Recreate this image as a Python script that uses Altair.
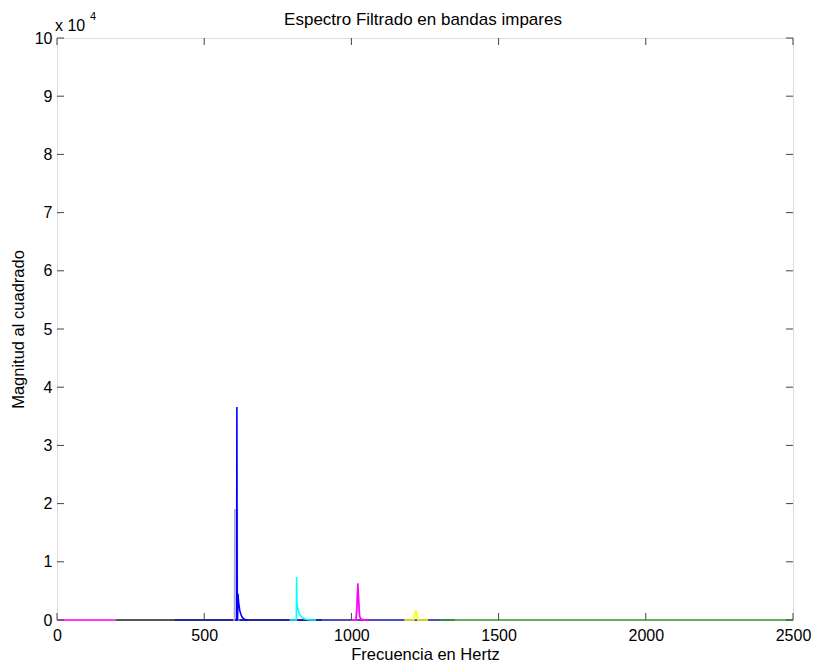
import altair as alt
import pandas as pd

# ---- data ----
# baseline segments (zero-level output of each band filter)
base_magenta_f = [0, 200]
base_magenta_m = [0, 0]
base_black_f = [200, 400, 640, 900]
base_black_m = [0, 0, 0, 0]
base_blue_f = [400, 600, 850, 1350]
base_blue_m = [0, 0, 0, 0]

# band peaks
lav_f = [598, 603, 604, 612, 613, 620]
lav_m = [0, 0, 18900, 18900, 0, 0]
blue_f = [606, 610, 611, 612, 613, 615, 616, 618, 621, 625, 630, 638, 650]
blue_m = [0, 0, 36600, 0, 0, 4500, 3600, 2600, 1600, 900, 400, 100, 0]
cyan_f = [790, 813, 814, 815, 817, 820, 824, 829, 836, 845, 860, 880]
cyan_m = [0, 0, 7400, 2800, 2200, 1600, 1000, 600, 300, 120, 0, 0]
pink_f = [1000, 1015, 1018, 1021, 1024, 1027, 1032, 1045]
pink_m = [0, 0, 2500, 5200, 4000, 900, 200, 0]
magenta_f = [1000, 1016, 1019, 1022, 1025, 1028, 1033, 1050, 1060]
magenta_m = [0, 0, 2000, 6300, 3000, 600, 100, 0, 0]
yellow_f = [1180, 1212, 1219, 1226, 1260]
yellow_m = [0, 0, 1700, 0, 0]
green_f = [1300, 2500]
green_m = [0, 0]

series = [
    ("magenta0", base_magenta_f, base_magenta_m, "#ff00ff"),
    ("black0", base_black_f, base_black_m, "#222222"),
    ("blue0", base_blue_f, base_blue_m, "#1a1aa0"),
    ("lavender", lav_f, lav_m, "#a8a8e8"),
    ("blue", blue_f, blue_m, "#0000ff"),
    ("cyan", cyan_f, cyan_m, "#00ffff"),
    ("pink", pink_f, pink_m, "#e89ae8"),
    ("magenta", magenta_f, magenta_m, "#ff00ff"),
    ("yellow", yellow_f, yellow_m, "#ffff00"),
    ("green", green_f, green_m, "#2f9a2f"),
]

rows = []
for k, (name, fs, ms, _) in enumerate(series):
    for i, (f, m) in enumerate(zip(fs, ms)):
        rows.append({"f": f, "m": m, "s": name, "o": k * 100 + i})
df = pd.DataFrame(rows)

x_ticks = [0, 500, 1000, 1500, 2000, 2500]
y_ticks = [0, 10000, 20000, 30000, 40000, 50000, 60000, 70000, 80000, 90000, 100000]

W, H = 736, 582
FONT = "Liberation Sans"
xs = alt.Scale(domain=[0, 2500], nice=False, zero=False)
ys = alt.Scale(domain=[0, 100000], nice=False)

x_axis = alt.Axis(
    values=x_ticks, title="Frecuencia en Hertz", ticks=False, domain=False,
    grid=False, labelPadding=7, labelFontSize=16, titleFontSize=16.5,
    labelFont=FONT, titleFont=FONT, labelColor="#000", titleColor="#000",
    titleFontWeight="normal", titlePadding=3, labelFlush=False, format="d")
y_axis = alt.Axis(
    values=y_ticks, title="Magnitud al cuadrado", ticks=False, domain=False,
    grid=False, labelPadding=5, labelFontSize=16, titleFontSize=16.5,
    labelFont=FONT, titleFont=FONT, labelColor="#000", titleColor="#000",
    titleFontWeight="normal", titlePadding=8,
    labelExpr="format(datum.value / 10000, 'd')")

lines = alt.Chart(df).mark_line(strokeWidth=1.6, clip=False).encode(
    x=alt.X("f:Q", scale=xs, axis=x_axis),
    y=alt.Y("m:Q", scale=ys, axis=y_axis),
    color=alt.Color("s:N", scale=alt.Scale(domain=[s[0] for s in series],
                                           range=[s[3] for s in series]), legend=None),
    detail="s:N",
    order="o:Q",
)

xt = pd.DataFrame({"f": x_ticks})
yt = pd.DataFrame({"m": y_ticks})
TL = 7
tick_style = dict(color="#444", strokeWidth=1)
xb = alt.Chart(xt).mark_rule(**tick_style).encode(
    x=alt.X("f:Q", scale=xs, axis=x_axis), y=alt.value(H), y2=alt.value(H - TL))
xtop = alt.Chart(xt).mark_rule(**tick_style).encode(
    x=alt.X("f:Q", scale=xs, axis=x_axis), y=alt.value(0), y2=alt.value(TL))
yl = alt.Chart(yt).mark_rule(**tick_style).encode(
    y=alt.Y("m:Q", scale=ys, axis=y_axis), x=alt.value(0), x2=alt.value(TL))
yr = alt.Chart(yt).mark_rule(**tick_style).encode(
    y=alt.Y("m:Q", scale=ys, axis=y_axis), x=alt.value(W), x2=alt.value(W - TL))

title_txt = alt.Chart(pd.DataFrame({"t": ["Espectro Filtrado en bandas impares"]})).mark_text(
    align="center", baseline="middle", fontSize=17, font=FONT, color="#000"
).encode(text="t:N", x=alt.value(W / 2 - 2), y=alt.value(-18))
exp_base = alt.Chart(pd.DataFrame({"t": ["x 10"]})).mark_text(
    align="left", baseline="middle", fontSize=16, font=FONT, color="#000"
).encode(text="t:N", x=alt.value(-2), y=alt.value(-12))
exp_sup = alt.Chart(pd.DataFrame({"t": ["4"]})).mark_text(
    align="left", baseline="middle", fontSize=11, font=FONT, color="#000"
).encode(text="t:N", x=alt.value(33), y=alt.value(-21))

chart = alt.layer(lines, xb, xtop, yl, yr, title_txt, exp_base, exp_sup).properties(
    width=W, height=H,
    autosize=alt.AutoSizeParams(type="none"),
    padding={"left": 57, "top": 38, "right": 22, "bottom": 46},
).configure_view(stroke="#666", strokeWidth=1).configure(background="white")

chart.save("out.html", embed_options={"renderer": "svg", "actions": False})
